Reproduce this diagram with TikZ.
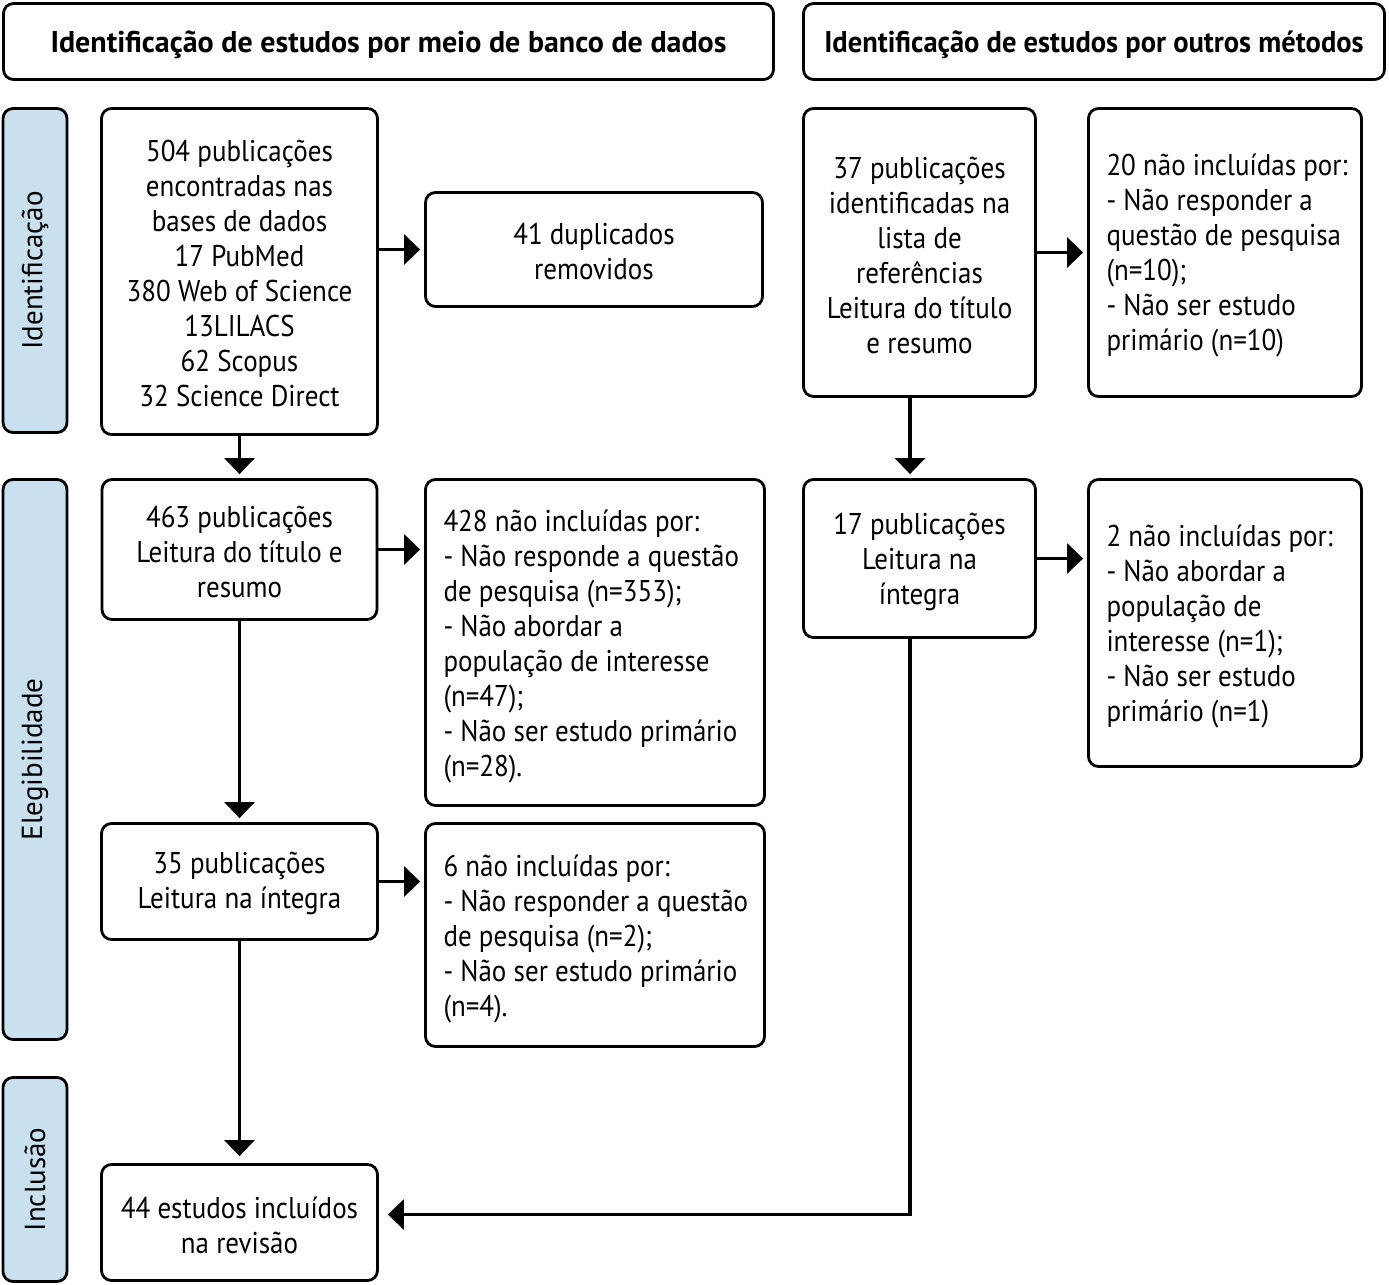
\documentclass[tikz,border=0pt]{standalone}
\usepackage{fontspec}
\setmainfont{PT Sans}
\newfontfamily\bodyfont{PT Sans}[FakeStretch=0.9]
\newfontfamily\hdfontR{PT Sans}[FakeStretch=0.95]
\usetikzlibrary{arrows.meta,calc}
\definecolor{barblue}{RGB}{201,225,238}
\tikzset{
  box/.style={draw=black, line width=1.4pt, rounded corners=5pt, fill=white, inner sep=0pt},
  bar/.style={draw=black, line width=1.4pt, rounded corners=5pt, fill=barblue, inner sep=0pt, minimum width=32pt},
  ctext/.style={align=center, font=\bodyfont\fontsize{15}{17.5}\selectfont, inner sep=0pt},
  ltext/.style={align=left, font=\bodyfont\fontsize{15}{17.5}\selectfont, inner sep=0pt, anchor=west},
  htext/.style={font=\fontsize{15}{18}\selectfont\bfseries, inner sep=0pt},
  vtext/.style={font=\fontsize{14.5}{17}\selectfont, rotate=90, inner sep=0pt},
  arr/.style={line width=1.6pt, -{Triangle[length=8pt,width=15pt]}, shorten >=2pt},
}
\begin{document}
\begin{tikzpicture}[x=0.5pt,y=-0.5pt]
\useasboundingbox (0,0) rectangle (1389,1285);
% headers
\node[box, minimum width=385pt, minimum height=38pt] (HL) at (388.5,41.5) {};
\node[htext] (HLt) at ([yshift=-1.5pt]HL.center) {Identificação de estudos por meio de banco de dados};
\node[box, minimum width=290.5pt, minimum height=38pt] (HR) at (1094,41.5) {};
\node[htext, font=\hdfontR\fontsize{15}{18}\selectfont\bfseries] (HRt) at ([yshift=-1.5pt]HR.center) {Identificação de estudos por outros métodos};
% side bars
\node[bar, minimum height=162pt] (S1) at (35,270.5) {};
\node[vtext] (S1t) at (S1) {Identificação};
\node[bar, minimum height=280pt] (S2) at (35,759.5) {};
\node[vtext] (S2t) at (S2) {Elegibilidade};
\node[bar, minimum height=102pt] (S3) at (35,1179.5) {};
\node[vtext] (S3t) at (S3) {Inclusão};
% left column
\node[box, minimum width=138pt, minimum height=163pt] (A) at (239.5,271.5) {};
\node[ctext] (At) at ([yshift=-1pt]A.center) {504 publicações\\encontradas nas\\bases de dados\\17 PubMed\\380 Web of Science\\13LILACS\\62 Scopus\\32 Science Direct};
\node[box, minimum width=168.5pt, minimum height=57pt] (B) at (594,249.5) {};
\node[ctext] (Bt) at ([yshift=-1pt]B.center) {41 duplicados\\removidos};
\node[box, minimum width=137.5pt, minimum height=70pt] (C) at (239.5,549.5) {};
\node[ctext] (Ct) at ([yshift=-1pt]C.center) {463 publicações\\Leitura do título e\\resumo};
\node[box, minimum width=169.5pt, minimum height=163pt] (D) at (595,642.5) {};
\node[ltext] (Dt) at ([xshift=9.5pt,yshift=-2pt]D.west) {428 não incluídas por:\\- Não responde a questão\\de pesquisa (n=353);\\- Não abordar a\\população de interesse\\(n=47);\\- Não ser estudo primário\\(n=28).};
\node[box, minimum width=138pt, minimum height=58pt] (E) at (239.5,881.5) {};
\node[ctext] (Et) at ([yshift=-1pt]E.center) {35 publicações\\Leitura na íntegra};
\node[box, minimum width=169.5pt, minimum height=111.5pt] (F) at (595,935) {};
\node[ltext] (Ft) at ([xshift=9.5pt,yshift=-2pt]F.west) {6 não incluídas por:\\- Não responder a questão\\de pesquisa (n=2);\\- Não ser estudo primário\\(n=4).};
\node[box, minimum width=138pt, minimum height=58pt] (G) at (239.5,1222.5) {};
\node[ctext] (Gt) at ([yshift=-1.5pt]G.center) {44 estudos incluídos\\na revisão};
% right column
\node[box, minimum width=116pt, minimum height=144pt] (H) at (919.5,252.5) {};
\node[ctext] (Ht) at ([yshift=-1.5pt]H.center) {37 publicações\\identificadas na\\lista de\\referências\\Leitura do título\\e resumo};
\node[box, minimum width=136.5pt, minimum height=144pt] (I) at (1225,252.5) {};
\node[ltext] (It) at ([xshift=9.5pt,yshift=-1.5pt]I.west) {20 não incluídas por:\\- Não responder a\\questão de pesquisa\\(n=10);\\- Não ser estudo\\primário (n=10)};
\node[box, minimum width=116pt, minimum height=79pt] (J) at (919.5,558.5) {};
\node[ctext] (Jt) at ([yshift=-1.5pt]J.center) {17 publicações\\Leitura na\\íntegra};
\node[box, minimum width=136.5pt, minimum height=143.5pt] (K) at (1225,623) {};
\node[ltext] (Kt) at ([xshift=9.5pt,yshift=-1.5pt]K.west) {2 não incluídas por:\\- Não abordar a\\população de\\interesse (n=1);\\- Não ser estudo\\primário (n=1)};
% connectors
\draw[arr] (A.east |- B.west) -- (B.west);
\draw[arr] (A.south) -- (C.north);
\draw[arr] (C.east) -- (C.east -| D.west);
\draw[arr] (C.south) -- (E.north);
\draw[arr] (E.east) -- (E.east -| F.west);
\draw[arr, shorten >=3.5pt] (E.south) -- (G.north);
\draw[arr] (H.east) -- (H.east -| I.west);
\draw[arr] ([xshift=-4.75pt]H.south) -- ([xshift=-4.75pt]H.south |- J.north);
\draw[arr] (J.east) -- (J.east -| K.west);
\coordinate (Gin) at ([yshift=4pt]G.east);
\draw[arr, shorten >=4.5pt] ([xshift=-4.75pt]J.south) |- (Gin);
\end{tikzpicture}
\end{document}
